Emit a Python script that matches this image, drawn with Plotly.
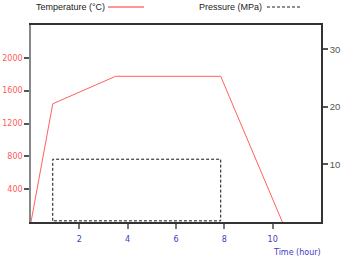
import plotly.graph_objects as go

time_temp = [0, 0.9, 3.5, 7.85, 10.4]
temperature = [0, 1440, 1775, 1775, 0]
time_pres = [0.9, 0.9, 7.85, 7.85, 0.9]
pressure = [0.2, 10.9, 10.9, 0.2, 0.2]
x_ticks = [2, 4, 6, 8, 10]
temp_ticks = [400, 800, 1200, 1600, 2000]
pres_ticks = [10, 20, 30]

W, H = 342, 259
L, R, T, B = 31, 321, 25, 222

def px(x):
    return (x - L) / (R - L)

def py(y):
    return (B - y) / (B - T)

RED = "#ff5a5a"
BLUE = "#3c3cc8"

fig = go.Figure()
fig.add_trace(go.Scatter(x=time_temp, y=temperature, mode="lines",
                         line=dict(color="#ff6060", width=1), yaxis="y",
                         showlegend=False, hoverinfo="skip"))
fig.add_trace(go.Scatter(x=time_pres, y=pressure, mode="lines",
                         line=dict(color="#111111", width=1, dash="3px,2px"),
                         yaxis="y2", showlegend=False, hoverinfo="skip"))

fig.update_layout(
    width=W, height=H,
    margin=dict(l=L, r=W - R, t=T, b=H - B, pad=0, autoexpand=False),
    paper_bgcolor="white", plot_bgcolor="white",
    xaxis=dict(range=[0, 12], tickvals=x_ticks, ticks="outside", ticklen=5,
               tickcolor="#777777", tickwidth=1.5, automargin=False,
               showline=True, linecolor="#333333", linewidth=1.5, mirror=True,
               showgrid=False, zeroline=False,
               tickfont=dict(family="DejaVu Sans", size=8, color=BLUE),
               ticklabelstandoff=4),
    yaxis=dict(range=[0, 2400], tickvals=temp_ticks, ticks="outside", ticklen=5,
               tickcolor="#555555", tickwidth=1.5, automargin=False,
               showline=True, linecolor="#888888", linewidth=1.5,
               showgrid=False, zeroline=False,
               tickfont=dict(family="DejaVu Sans", size=8, color=RED)),
    yaxis2=dict(range=[0, 34.2], tickvals=pres_ticks, overlaying="y", side="right",
                ticks="outside", ticklen=5, tickcolor="#555555", tickwidth=1.5,
                automargin=False,
                showline=True, linecolor="#333333", linewidth=1.5,
                showgrid=False, zeroline=False,
                tickfont=dict(family="Liberation Sans", size=9.5, color="#555555")),
    annotations=[
        dict(text="Time (hour)", xref="paper", yref="paper", x=px(323), y=py(252),
             xanchor="right", yanchor="middle", showarrow=False,
             font=dict(family="DejaVu Sans", size=8, color=BLUE)),
        dict(text="Temperature (°C)", xref="paper", yref="paper", x=px(107), y=py(7),
             xanchor="right", yanchor="middle", showarrow=False,
             font=dict(family="Liberation Sans", size=9, color="#222222")),
        dict(text="Pressure (MPa)", xref="paper", yref="paper", x=px(264), y=py(7),
             xanchor="right", yanchor="middle", showarrow=False,
             font=dict(family="Liberation Sans", size=9, color="#222222")),
    ],
    shapes=[
        dict(type="line", xref="paper", yref="paper", x0=px(108), x1=px(144),
             y0=py(7), y1=py(7), line=dict(color="#ff7070", width=1.5)),
        dict(type="line", xref="paper", yref="paper", x0=px(267), x1=px(301),
             y0=py(7), y1=py(7), line=dict(color="#222222", width=1, dash="3px,2px")),
    ],
)

fig.write_html("out.html", config={"displayModeBar": False},
               post_script="document.body.style.margin='0';")
